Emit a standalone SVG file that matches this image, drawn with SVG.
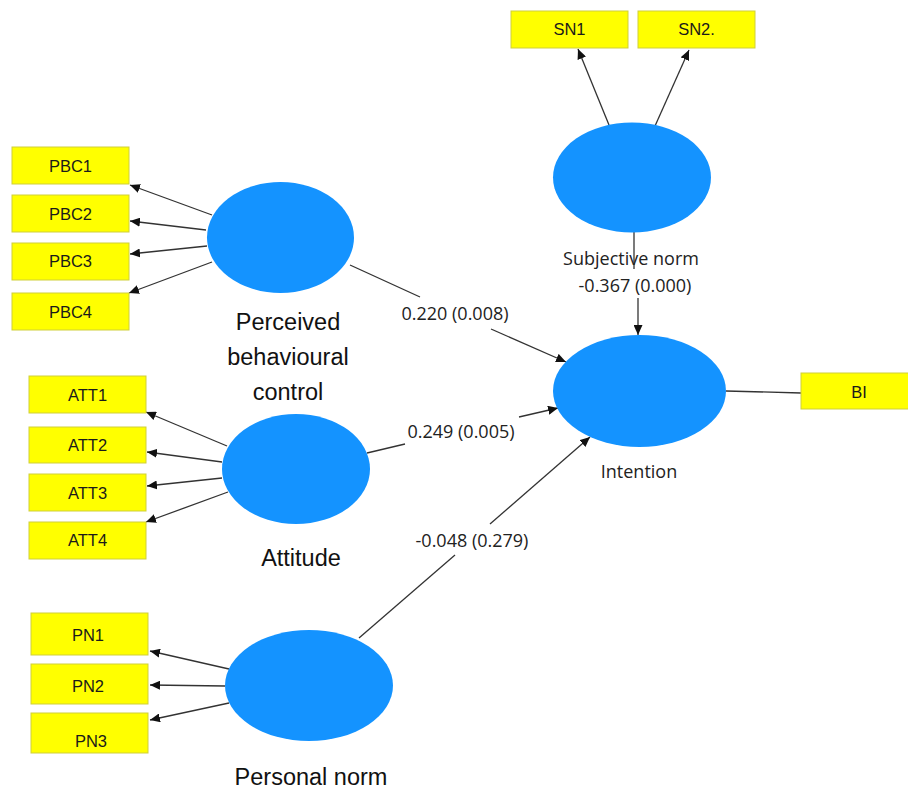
<svg xmlns="http://www.w3.org/2000/svg" width="908" height="792" viewBox="0 0 908 792">
<style>
.box{fill:#FFFF00;stroke:#CFCF3A;stroke-width:1}
.lv{fill:#1493FF}
.bt{font-family:"Liberation Sans",Arial,sans-serif;font-size:16.5px;fill:#1a1a1a;text-anchor:middle}
.big{font-family:"Liberation Sans",Arial,sans-serif;font-size:23.5px;fill:#111;text-anchor:middle}
.sm{font-family:"Open Sans","Noto Sans",sans-serif;font-size:18px;fill:#222;text-anchor:middle}
.ln{stroke:#333;stroke-width:1.3;fill:none}
</style>
<defs>
<marker id="ah" markerUnits="userSpaceOnUse" markerWidth="11" markerHeight="9" refX="10" refY="4.5" orient="auto">
<path d="M0,0 L10,4.5 L0,9 z" fill="#111"/>
</marker>
</defs>
<rect width="908" height="792" fill="#fff"/>

<g id="connectors">
<line class="ln" x1="212" y1="215" x2="130" y2="185" marker-end="url(#ah)"/>
<line class="ln" x1="206" y1="230" x2="130" y2="221" marker-end="url(#ah)"/>
<line class="ln" x1="207" y1="246" x2="130" y2="254" marker-end="url(#ah)"/>
<line class="ln" x1="212" y1="262" x2="129" y2="293" marker-end="url(#ah)"/>
<line class="ln" x1="227" y1="446" x2="146" y2="412" marker-end="url(#ah)"/>
<line class="ln" x1="222" y1="462" x2="147" y2="452" marker-end="url(#ah)"/>
<line class="ln" x1="222" y1="478" x2="147" y2="486" marker-end="url(#ah)"/>
<line class="ln" x1="228" y1="492" x2="146" y2="522" marker-end="url(#ah)"/>
<line class="ln" x1="229" y1="669" x2="150" y2="651" marker-end="url(#ah)"/>
<line class="ln" x1="225" y1="686" x2="150" y2="685" marker-end="url(#ah)"/>
<line class="ln" x1="229" y1="703" x2="150" y2="720" marker-end="url(#ah)"/>
<line class="ln" x1="609" y1="125" x2="578" y2="49" marker-end="url(#ah)"/>
<line class="ln" x1="655" y1="126" x2="689" y2="50" marker-end="url(#ah)"/>
<line class="ln" x1="634" y1="232" x2="634" y2="269"/>
<line class="ln" x1="638" y1="298" x2="638" y2="335" marker-end="url(#ah)"/>
<line class="ln" x1="350" y1="265" x2="420" y2="297"/>
<line class="ln" x1="491" y1="329" x2="566" y2="362" marker-end="url(#ah)"/>
<line class="ln" x1="367" y1="453" x2="405" y2="444"/>
<line class="ln" x1="519" y1="417" x2="558" y2="408" marker-end="url(#ah)"/>
<line class="ln" x1="359" y1="638" x2="455" y2="555"/>
<line class="ln" x1="490" y1="524" x2="590" y2="437" marker-end="url(#ah)"/>
<line class="ln" x1="726" y1="391" x2="801" y2="393"/>
<text class="sm" x="455" y="320">0.220 (0.008)</text>
<text class="sm" x="461" y="438">0.249 (0.005)</text>
<text class="sm" x="472" y="547">-0.048 (0.279)</text>
<text class="sm" x="635" y="292">-0.367 (0.000)</text>
</g>

<g id="PBC1"><rect class="box" x="12" y="147" width="117" height="37"/><text class="bt" x="70.5" y="172">PBC1</text></g>
<g id="PBC2"><rect class="box" x="12" y="195" width="117" height="37"/><text class="bt" x="70.5" y="220">PBC2</text></g>
<g id="PBC3"><rect class="box" x="12" y="243" width="117" height="37"/><text class="bt" x="70.5" y="267">PBC3</text></g>
<g id="PBC4"><rect class="box" x="12" y="293" width="117" height="37"/><text class="bt" x="70.5" y="318">PBC4</text></g>

<g id="ATT1"><rect class="box" x="29" y="376" width="117" height="37"/><text class="bt" x="87.5" y="401">ATT1</text></g>
<g id="ATT2"><rect class="box" x="29" y="427" width="117" height="36"/><text class="bt" x="87.5" y="451">ATT2</text></g>
<g id="ATT3"><rect class="box" x="29" y="474" width="117" height="37"/><text class="bt" x="87.5" y="499">ATT3</text></g>
<g id="ATT4"><rect class="box" x="29" y="522" width="117" height="37"/><text class="bt" x="87.5" y="546">ATT4</text></g>

<g id="PN1"><rect class="box" x="31" y="613" width="117" height="42"/><text class="bt" x="88" y="641">PN1</text></g>
<g id="PN2"><rect class="box" x="31" y="664" width="117" height="40"/><text class="bt" x="88" y="692">PN2</text></g>
<g id="PN3"><rect class="box" x="31" y="713" width="117" height="40"/><text class="bt" x="91" y="747">PN3</text></g>

<g id="SN1"><rect class="box" x="511" y="11" width="117" height="37"/><text class="bt" x="569.5" y="35">SN1</text></g>
<g id="SN2"><rect class="box" x="638" y="11" width="117" height="37"/><text class="bt" x="696.5" y="35">SN2.</text></g>

<g id="BI"><rect class="box" x="801" y="373" width="120" height="36"/><text class="bt" x="859" y="398">BI</text></g>

<g id="PBC"><ellipse class="lv" cx="280.5" cy="237.5" rx="73.5" ry="55.5"/>
<text class="big" x="288" y="330">Perceived</text>
<text class="big" x="288" y="365">behavioural</text>
<text class="big" x="288" y="400">control</text></g>

<g id="ATT"><ellipse class="lv" cx="296" cy="469" rx="74" ry="55"/>
<text class="big" x="301" y="566">Attitude</text></g>

<g id="PN"><ellipse class="lv" cx="309" cy="685.5" rx="84" ry="55.5"/>
<text class="big" x="311" y="785">Personal norm</text></g>

<g id="SN"><ellipse class="lv" cx="632" cy="177.5" rx="79" ry="55"/>
<text class="sm" x="631" y="265">Subjective norm</text></g>

<g id="Intention"><ellipse class="lv" cx="639.5" cy="391" rx="86.5" ry="56"/>
<text class="sm" x="639" y="478">Intention</text></g>
</svg>
